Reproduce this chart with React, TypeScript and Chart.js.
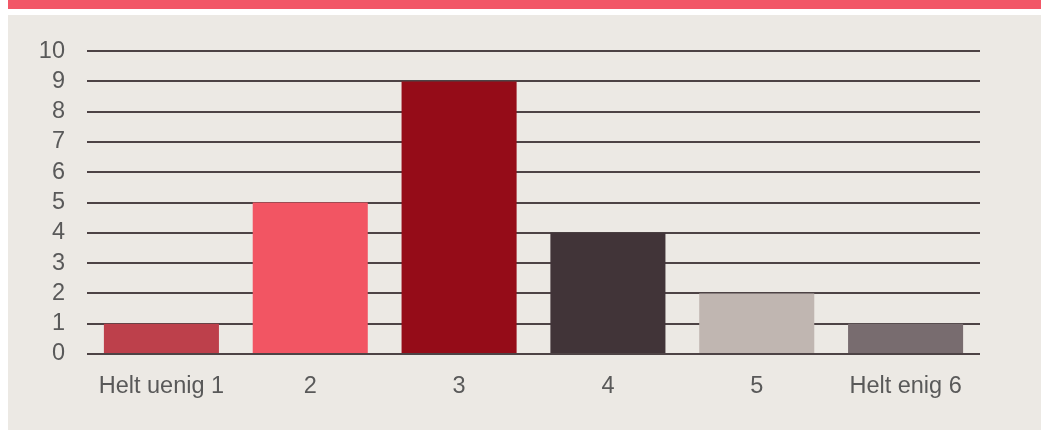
import React, { useEffect, useRef } from "react";
import { Chart, registerables } from "chart.js";

Chart.register(...registerables);

const categories = ["Helt uenig 1", "2", "3", "4", "5", "Helt enig 6"];
const values = [1, 5, 9, 4, 2, 1];
const barColors = ["#bd404b", "#f25563", "#950c18", "#413438", "#c0b6b1", "#786c6f"];

export default function App() {
  const ref = useRef<HTMLCanvasElement | null>(null);

  useEffect(() => {
    if (!ref.current) return;
    const chart = new Chart(ref.current, {
      type: "bar",
      data: {
        labels: categories,
        datasets: [
          {
            data: values,
            backgroundColor: barColors,
            borderWidth: 0,
            barPercentage: 0.773,
            categoryPercentage: 1,
          },
        ],
      },
      options: {
        animation: false,
        responsive: false,
        maintainAspectRatio: false,
        layout: { padding: { top: 33, right: 61, bottom: 0, left: 0 } },
        plugins: { legend: { display: false }, tooltip: { enabled: false } },
        scales: {
          x: {
            grid: { display: false },
            border: { display: false },
            ticks: {
              color: "#595959",
              font: { family: "'Liberation Sans', Arial, sans-serif", size: 23.5 },
              padding: 10,
              maxRotation: 0,
              autoSkip: false,
            },
            afterFit: (scale: any) => {
              scale.height = 76;
            },
          },
          y: {
            min: 0,
            max: 10,
            grid: { color: "#4d4345", lineWidth: 2, drawTicks: false },
            border: { display: false },
            ticks: {
              stepSize: 1,
              autoSkip: false,
              color: "#595959",
              font: { family: "'Liberation Sans', Arial, sans-serif", size: 23.5 },
              padding: 22,
            },
            afterFit: (scale: any) => {
              scale.width = 79;
            },
          },
        },
      },
    });
    return () => chart.destroy();
  }, []);

  return (
    <div style={{ position: "absolute", left: 8, top: 0, width: 1033, height: 431, background: "#ffffff" }}>
      <div style={{ position: "absolute", left: 0, top: 0, width: 1033, height: 9, background: "#f25767" }} />
      <div style={{ position: "absolute", left: 0, top: 15, width: 1033, height: 415, background: "#ece9e4" }}>
        <canvas ref={ref} width={1033} height={415} style={{ display: "block" }} />
      </div>
    </div>
  );
}
